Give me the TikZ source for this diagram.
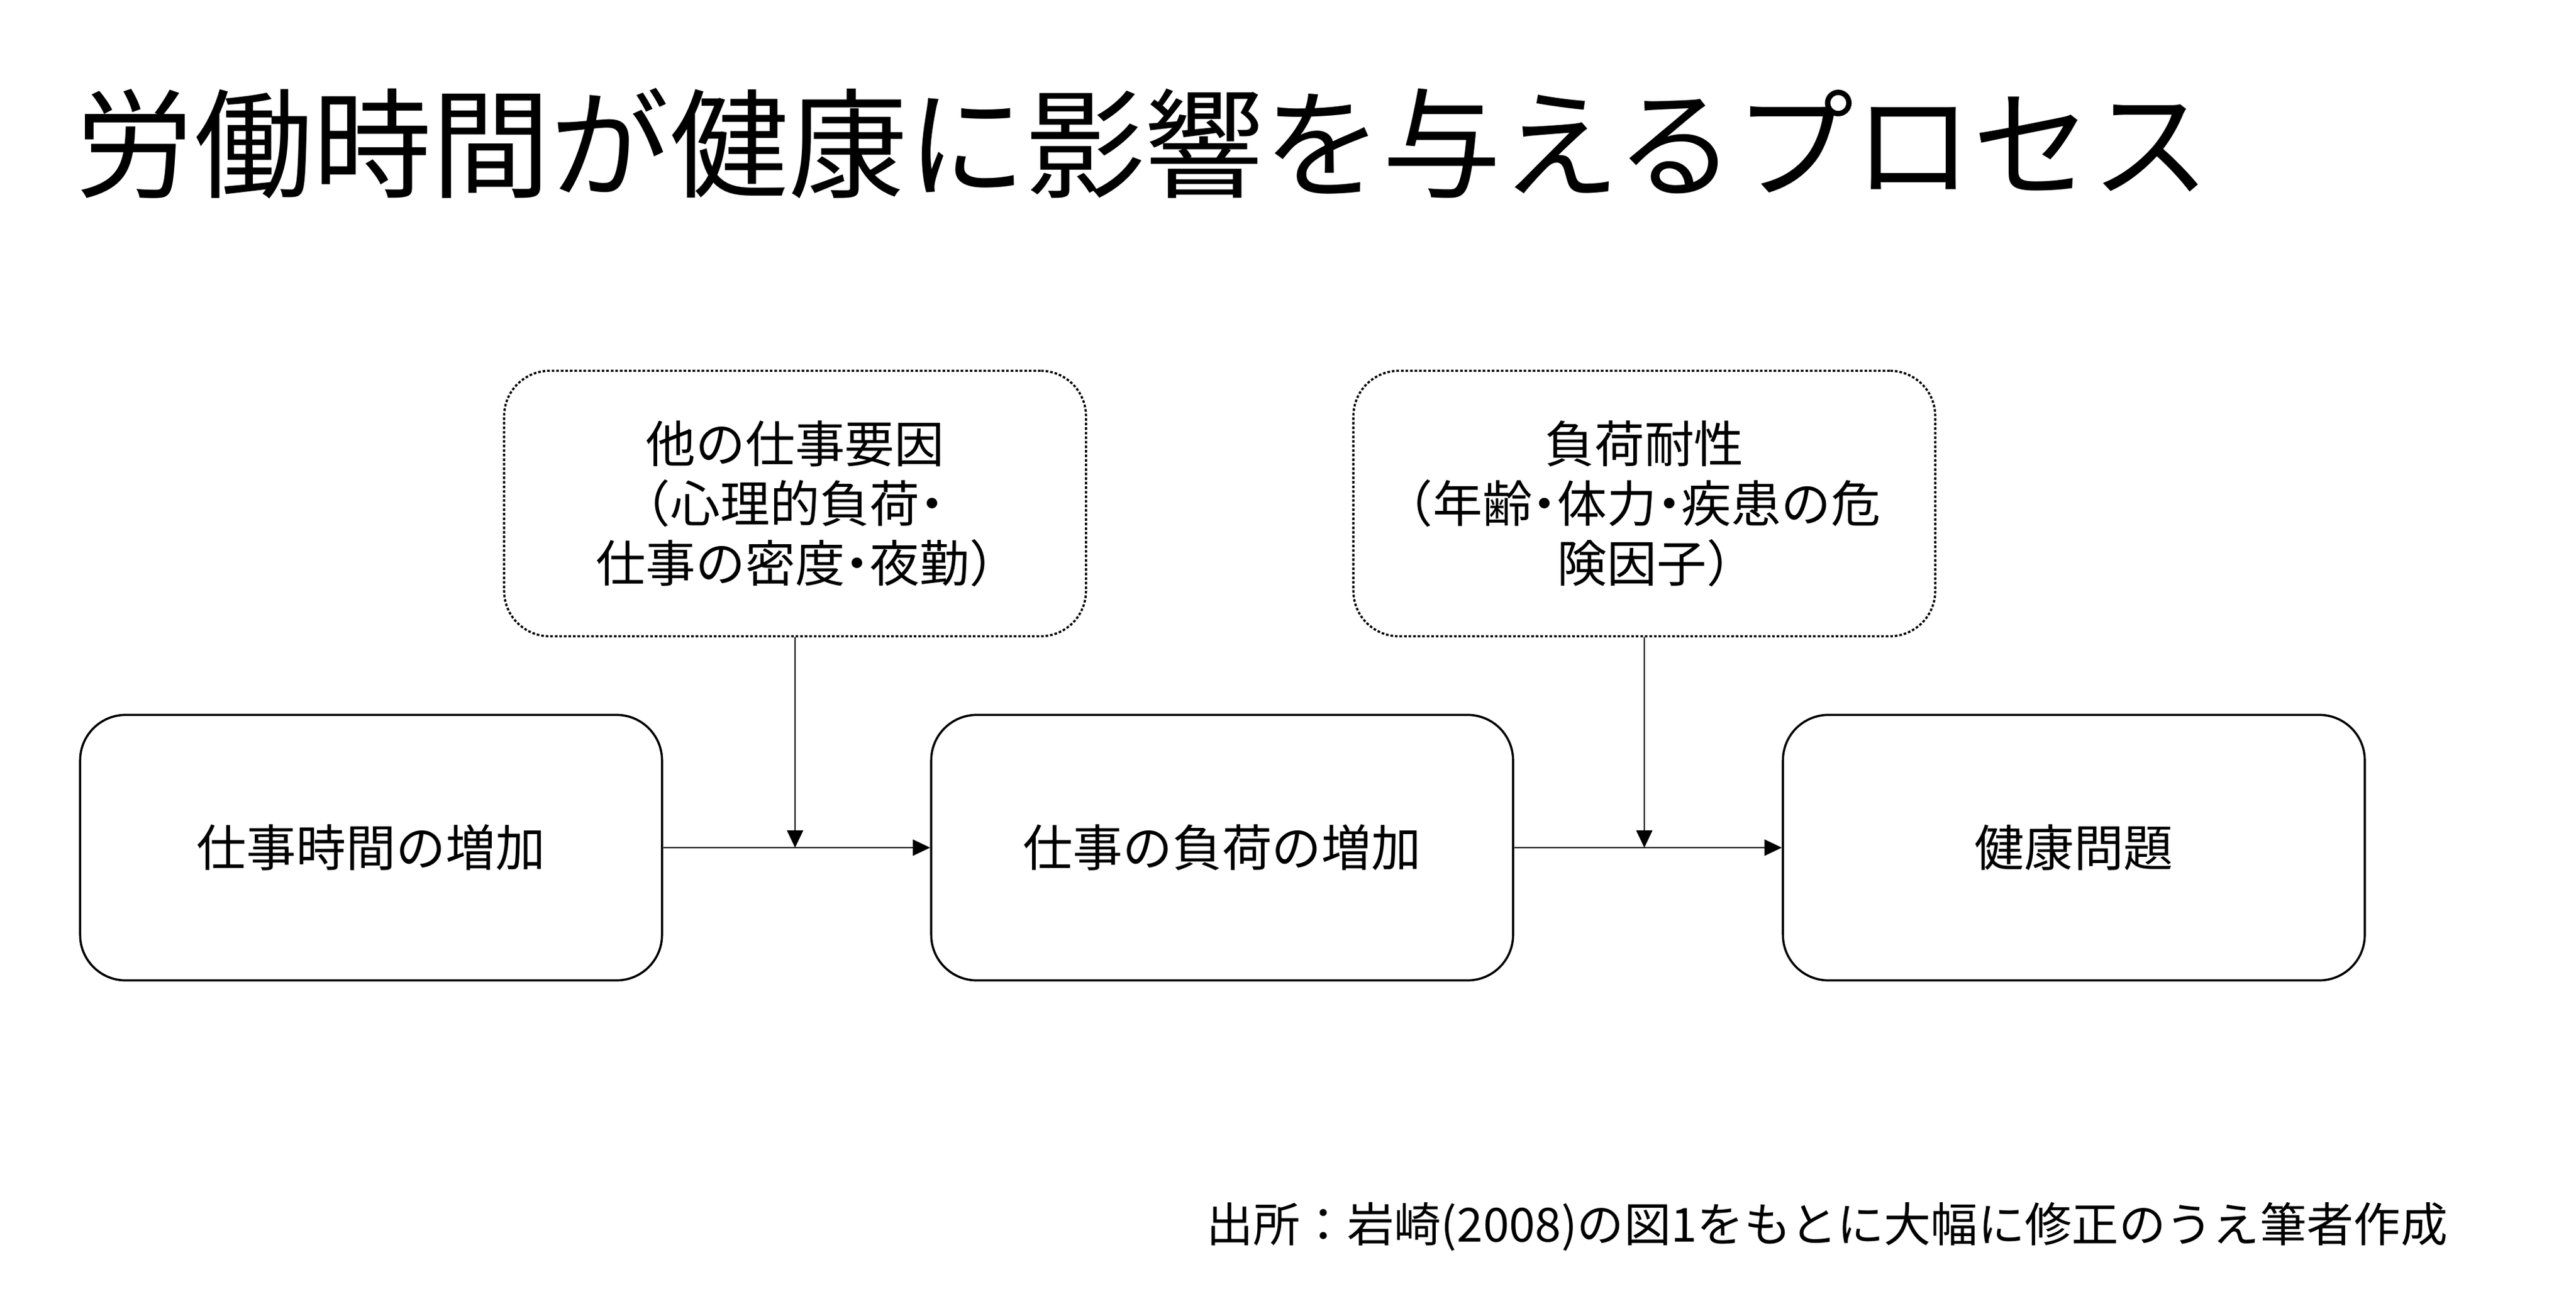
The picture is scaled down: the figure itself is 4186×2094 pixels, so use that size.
\documentclass[tikz,border=0pt]{standalone}
\usepackage{fontspec}
\setmainfont{Noto Sans CJK JP}
\newfontfamily\haltfont[CharacterWidth=AlternateHalf]{Noto Sans CJK JP}
\usetikzlibrary{arrows.meta}

\begin{document}
\begin{tikzpicture}[x=0.01cm,y=-0.01cm,
  box/.style={draw, line width=1pt, rounded corners=21pt, minimum width=9.45cm, minimum height=4.31cm, align=center, font=\fontsize{23}{27.6}\selectfont},
  factor/.style={box, dash pattern=on 1.2pt off 0.9pt, font=\haltfont\fontsize{23}{27.6}\selectfont},
  link/.style={line width=0.5pt, -{Triangle[length=8pt,width=7.5pt]}}]
\fill[white] (0,0) rectangle (4186,2094);
\useasboundingbox (0,0) rectangle (4186,2094);
\node[anchor=west, inner sep=0pt, font=\fontsize{54.9}{60}\selectfont] (title) at (122,233) {労働時間が健康に影響を与えるプロセス};
\node[box] (B1) at (603,1377) {仕事時間の増加};
\node[box] (B2) at (1986,1377) {仕事の負荷の増加};
\node[box] (B3) at (3370,1377) {健康問題};
\node[factor] (F1) at (1292,818) {他の仕事要因\\（心理的負荷・\\仕事の密度・夜勤）};
\node[factor] (F2) at (2672,818) {負荷耐性\\（年齢・体力・疾患の危\\険因子）};
\coordinate (J1) at (F1.south |- B1.east);
\coordinate (J2) at (F2.south |- B2.east);
\draw[link] (B1.east) -- (B2.west);
\draw[link] (B2.east) -- (B3.west);
\draw[link] (F1.south) -- (J1);
\draw[link] (F2.south) -- (J2);
\node[anchor=east, inner sep=0pt, font=\fontsize{21.7}{26}\selectfont] (source) at (3978,1993) {出所：岩崎(2008)の図1をもとに大幅に修正のうえ筆者作成};
\end{tikzpicture}
\end{document}
